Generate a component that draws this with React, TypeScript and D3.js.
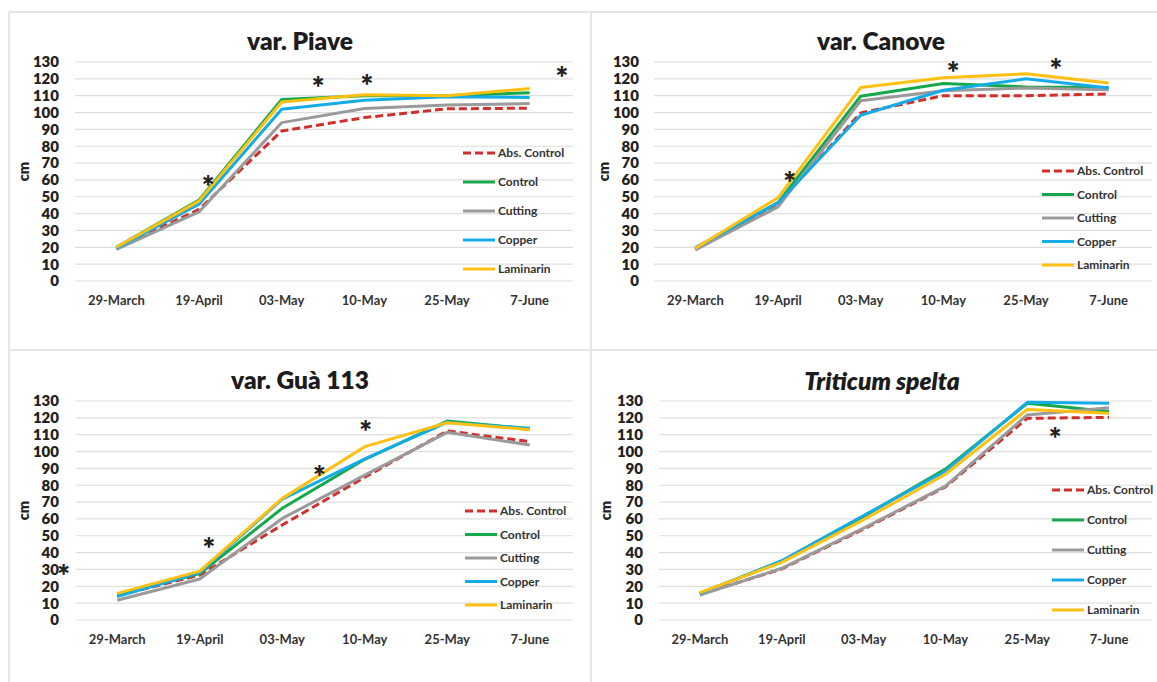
import React from "react";
import * as d3 from "d3";

// categories / series
const dates = ["29-March", "19-April", "03-May", "10-May", "25-May", "7-June"];
const seriesNames = ["Abs. Control", "Control", "Cutting", "Copper", "Laminarin"];
const yTicks = [0, 10, 20, 30, 40, 50, 60, 70, 80, 90, 100, 110, 120, 130];

// var. Piave
const piaveAbs = [19.4, 42.5, 89, 97, 102.2, 102.6];
const piaveControl = [20, 48, 107.7, 110, 110, 111.7];
const piaveCutting = [18.8, 41, 94, 102.4, 104.5, 105.3];
const piaveCopper = [19.5, 45.6, 102, 107.3, 109.3, 109];
const piaveLaminarin = [20, 47.4, 106.3, 110.5, 110, 114.2];
const piaveStars = [[1.11, 58.2], [2.44, 116.9], [3.03, 118.1], [5.39, 122.8]];

// var. Canove
const canoveAbs = [18.8, 46, 99.8, 110, 110, 111];
const canoveControl = [19.4, 46.5, 109.7, 117.2, 115.2, 114.8];
const canoveCutting = [18.4, 44, 107, 113, 114.6, 113.6];
const canoveCopper = [19.8, 46.5, 98.4, 113.2, 120, 114.6];
const canoveLaminarin = [19.4, 49.4, 114.8, 120.6, 123, 117.6];
const canoveStars = [[1.14, 60.5], [3.12, 125.8], [4.36, 127.6]];

// var. Guà 113
const guaAbs = [14.4, 26.7, 56.4, 84.7, 112.2, 105.9];
const guaControl = [14.8, 27.5, 66.3, 95.4, 118.1, 113.4];
const guaCutting = [11.7, 24.3, 60.3, 86, 111.4, 103.9];
const guaCopper = [13.9, 28.1, 71.8, 95.6, 117.3, 113.8];
const guaLaminarin = [15.8, 29, 72.2, 102.9, 117.1, 113];
const guaStars = [[-0.65, 28.5], [1.11, 44.5], [2.45, 87.2], [3.01, 114]];

// Triticum spelta
const speltaAbs = [15.2, 30.3, 54, 79, 119.7, 120.3];
const speltaControl = [15.8, 35, 61.5, 89.6, 128.6, 123.7];
const speltaCutting = [14.8, 30.7, 54.5, 79.5, 121.7, 126];
const speltaCopper = [15.8, 35.2, 62, 88.4, 129.2, 128.6];
const speltaLaminarin = [16.2, 34.2, 59.5, 86.5, 125, 122.7];
const speltaStars = [[4.34, 109.8]];

const colors = ["#d02f2c", "#14a84a", "#9a9a9a", "#14ace6", "#ffc012"];
const FONT = "Lato, 'Open Sans', sans-serif";
const GRID = "#dedede";
const STAR = 30;

const panels = [
  {
    title: "var. Piave", italic: false,
    series: [piaveAbs, piaveControl, piaveCutting, piaveCopper, piaveLaminarin],
    stars: piaveStars,
    x0: 75, x1: 571, top: 62, bottom: 281, labelX: 59,
    titleX: 300, titleY: 50, cmX: 24,
    legX: 463, legY: 153, legStep: 29,
  },
  {
    title: "var. Canove", italic: false,
    series: [canoveAbs, canoveControl, canoveCutting, canoveCopper, canoveLaminarin],
    stars: canoveStars,
    x0: 654, x1: 1150, top: 62, bottom: 281, labelX: 639,
    titleX: 881, titleY: 50, cmX: 604,
    legX: 1042, legY: 171, legStep: 23.5,
  },
  {
    title: "var. Guà 113", italic: false,
    series: [guaAbs, guaControl, guaCutting, guaCopper, guaLaminarin],
    stars: guaStars,
    x0: 76, x1: 571, top: 401, bottom: 620, labelX: 59,
    titleX: 300, titleY: 389, cmX: 24,
    legX: 465, legY: 511, legStep: 23.5,
  },
  {
    title: "Triticum spelta", italic: true,
    series: [speltaAbs, speltaControl, speltaCutting, speltaCopper, speltaLaminarin],
    stars: speltaStars,
    x0: 659, x1: 1150, top: 401, bottom: 620, labelX: 643,
    titleX: 882, titleY: 390, cmX: 606,
    legX: 1052, legY: 490, legStep: 30,
  },
];

function Panel({ p }) {
  const x = d3.scalePoint().domain(dates).range([p.x0, p.x1]).padding(0.5);
  const step = x.step();
  const xIdx = (i) => x(dates[0]) + i * step;
  const y = d3.scaleLinear().domain([0, 130]).range([p.bottom, p.top]);
  const line = d3
    .line()
    .x((d, i) => x(dates[i]))
    .y((d) => y(d));
  const midY = (p.top + p.bottom) / 2;

  return (
    <g>
      {yTicks.map((t) => (
        <g key={t}>
          <line x1={p.x0} x2={p.x1 + 2} y1={y(t)} y2={y(t)} stroke={GRID} strokeWidth={1.2} />
          <text x={p.labelX} y={y(t)} dy="0.36em" textAnchor="end" fontSize={15} fontWeight={800} fill="#222">
            {t}
          </text>
        </g>
      ))}
      {dates.map((d) => (
        <text key={d} x={x(d)} y={p.bottom + 19} dy="0.36em" textAnchor="middle" fontSize={13} fontWeight={700} fill="#333">
          {d}
        </text>
      ))}
      <text
        transform={`translate(${p.cmX},${midY}) rotate(-90)`}
        dy="0.36em"
        textAnchor="middle"
        fontSize={14.5}
        fontWeight={800}
        fill="#222"
      >
        cm
      </text>
      <text x={p.titleX} y={p.titleY} textAnchor="middle" fontSize={24.5} fontWeight={800} fontStyle={p.italic ? "italic" : "normal"} fill="#1c1c1c">
        {p.title}
      </text>

      {p.series.map((s, k) => (
        <path
          key={k}
          d={line(s)}
          fill="none"
          stroke={colors[k]}
          strokeWidth={3}
          strokeDasharray={k === 0 ? "8,4" : null}
          strokeLinejoin="round"
        />
      ))}

      {p.stars.map(([i, v], k) => (
        <text key={k} x={xIdx(i)} y={y(v) + STAR * 0.5} textAnchor="middle" fontSize={STAR} fontWeight={800} fill="#222">
          *
        </text>
      ))}

      {seriesNames.map((n, k) => {
        const ly = p.legY + k * p.legStep;
        return (
          <g key={n}>
            <line
              x1={p.legX}
              x2={p.legX + 32}
              y1={ly}
              y2={ly}
              stroke={colors[k]}
              strokeWidth={3}
              strokeDasharray={k === 0 ? "8,4" : null}
            />
            <text x={p.legX + 35} y={ly} dy="0.36em" fontSize={12} fontWeight={700} fill="#333">
              {n}
            </text>
          </g>
        );
      })}
    </g>
  );
}

export default function App() {
  const W = 1157;
  const H = 682;
  return (
    <svg
      width={W}
      height={H}
      style={{ position: "absolute", left: 0, top: 0, background: "#fff" }}
      fontFamily={FONT}
    >
      <rect width={W} height={H} fill="#fff" />
      {/* panel frames */}
      <line x1={9} x2={W} y1={12} y2={12} stroke={GRID} strokeWidth={1.5} />
      <line x1={9} x2={9} y1={12} y2={H} stroke={GRID} strokeWidth={1.5} />
      <line x1={591} x2={591} y1={12} y2={H} stroke={GRID} strokeWidth={1.5} />
      <line x1={9} x2={W} y1={350} y2={350} stroke={GRID} strokeWidth={1.5} />
      {panels.map((p) => (
        <Panel key={p.title} p={p} />
      ))}
    </svg>
  );
}
